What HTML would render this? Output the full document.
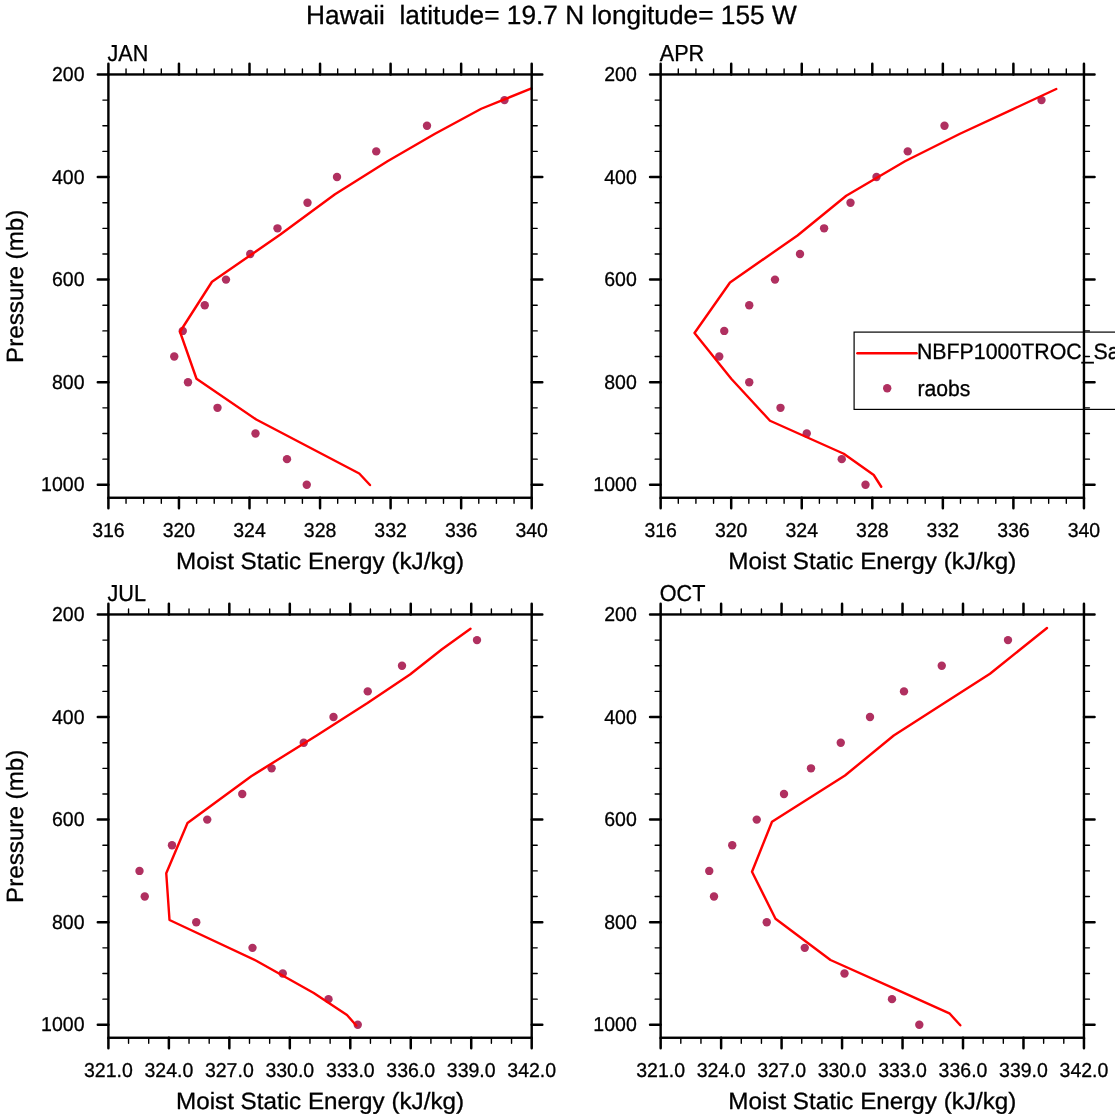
<!DOCTYPE html>
<html lang="en"><head><meta charset="utf-8"><title>Hawaii latitude= 19.7 N longitude= 155 W</title>
<style>html,body{margin:0;padding:0;background:#fff;overflow:hidden}svg{display:block}text{font-family:"Liberation Sans",Arial,Helvetica,sans-serif;fill:#000;text-rendering:geometricPrecision;stroke:#000;stroke-width:0.3px;stroke-linejoin:round}</style>
</head><body>
<svg width="1120" height="1120" viewBox="0 0 1120 1120">
<rect width="1120" height="1120" fill="#fff"/>
<text x="551.4" y="24.2" font-size="26.4" text-anchor="middle" textLength="490.6" lengthAdjust="spacingAndGlyphs" xml:space="preserve" style="white-space:pre">Hawaii  latitude= 19.7 N longitude= 155 W</text>
<g id="JAN">
<g fill="#b03060">
<circle cx="504.5" cy="100.1" r="4.2"/>
<circle cx="427" cy="125.75" r="4.2"/>
<circle cx="376.25" cy="151.39" r="4.2"/>
<circle cx="337" cy="177.04" r="4.2"/>
<circle cx="307.5" cy="202.69" r="4.2"/>
<circle cx="277.5" cy="228.33" r="4.2"/>
<circle cx="250.25" cy="253.98" r="4.2"/>
<circle cx="226" cy="279.62" r="4.2"/>
<circle cx="204.75" cy="305.26" r="4.2"/>
<circle cx="182.75" cy="330.91" r="4.2"/>
<circle cx="174.25" cy="356.56" r="4.2"/>
<circle cx="188" cy="382.2" r="4.2"/>
<circle cx="217.5" cy="407.84" r="4.2"/>
<circle cx="255.5" cy="433.49" r="4.2"/>
<circle cx="287" cy="459.13" r="4.2"/>
<circle cx="306.75" cy="484.78" r="4.2"/>
</g>
<polyline points="531.5,88.4 481.25,108.75 435,133.75 387.5,161.25 335,194.25 280,234.8 212,281.75 180,331.75 196.5,378.75 256.25,419.5 359.25,473.5 370,485" fill="none" stroke="#ff0000" stroke-width="2.4" stroke-linejoin="round" stroke-linecap="round"/>
<path d="M126.04 74.46v-5.5M126.04 497.76v5.5M143.68 74.46v-5.5M143.68 497.76v5.5M161.31 74.46v-5.5M161.31 497.76v5.5M196.59 74.46v-5.5M196.59 497.76v5.5M214.22 74.46v-5.5M214.22 497.76v5.5M231.86 74.46v-5.5M231.86 497.76v5.5M267.14 74.46v-5.5M267.14 497.76v5.5M284.77 74.46v-5.5M284.77 497.76v5.5M302.41 74.46v-5.5M302.41 497.76v5.5M337.69 74.46v-5.5M337.69 497.76v5.5M355.32 74.46v-5.5M355.32 497.76v5.5M372.96 74.46v-5.5M372.96 497.76v5.5M408.24 74.46v-5.5M408.24 497.76v5.5M425.88 74.46v-5.5M425.88 497.76v5.5M443.51 74.46v-5.5M443.51 497.76v5.5M478.79 74.46v-5.5M478.79 497.76v5.5M496.42 74.46v-5.5M496.42 497.76v5.5M514.06 74.46v-5.5M514.06 497.76v5.5M108.4 100.1h-5.5M531.7 100.1h5.5M108.4 125.75h-5.5M531.7 125.75h5.5M108.4 151.39h-5.5M531.7 151.39h5.5M108.4 202.69h-5.5M531.7 202.69h5.5M108.4 228.33h-5.5M531.7 228.33h5.5M108.4 253.98h-5.5M531.7 253.98h5.5M108.4 305.26h-5.5M531.7 305.26h5.5M108.4 330.91h-5.5M531.7 330.91h5.5M108.4 356.56h-5.5M531.7 356.56h5.5M108.4 407.84h-5.5M531.7 407.84h5.5M108.4 433.49h-5.5M531.7 433.49h5.5M108.4 459.13h-5.5M531.7 459.13h5.5" stroke="#000" stroke-width="1.4" stroke-linecap="round" fill="none"/>
<path d="M108.4 74.46v-10.6M108.4 497.76v10.6M178.95 74.46v-10.6M178.95 497.76v10.6M249.5 74.46v-10.6M249.5 497.76v10.6M320.05 74.46v-10.6M320.05 497.76v10.6M390.6 74.46v-10.6M390.6 497.76v10.6M461.15 74.46v-10.6M461.15 497.76v10.6M531.7 74.46v-10.6M531.7 497.76v10.6M108.4 74.46h-10.6M531.7 74.46h10.6M108.4 177.04h-10.6M531.7 177.04h10.6M108.4 279.62h-10.6M531.7 279.62h10.6M108.4 382.2h-10.6M531.7 382.2h10.6M108.4 484.78h-10.6M531.7 484.78h10.6" stroke="#000" stroke-width="2.5" stroke-linecap="round" fill="none"/>
<rect x="108.4" y="74.46" width="423.3" height="423.3" fill="none" stroke="#000" stroke-width="2.4"/>
<text x="107.5" y="61.46" font-size="23.1" textLength="40.8" lengthAdjust="spacingAndGlyphs" stroke-width="0.55">JAN</text>
<text x="108.4" y="536.61" font-size="20.1" text-anchor="middle" textLength="32.5" lengthAdjust="spacingAndGlyphs" stroke-width="0.2">316</text>
<text x="178.95" y="536.61" font-size="20.1" text-anchor="middle" textLength="32.5" lengthAdjust="spacingAndGlyphs" stroke-width="0.2">320</text>
<text x="249.5" y="536.61" font-size="20.1" text-anchor="middle" textLength="32.5" lengthAdjust="spacingAndGlyphs" stroke-width="0.2">324</text>
<text x="320.05" y="536.61" font-size="20.1" text-anchor="middle" textLength="32.5" lengthAdjust="spacingAndGlyphs" stroke-width="0.2">328</text>
<text x="390.6" y="536.61" font-size="20.1" text-anchor="middle" textLength="32.5" lengthAdjust="spacingAndGlyphs" stroke-width="0.2">332</text>
<text x="461.15" y="536.61" font-size="20.1" text-anchor="middle" textLength="32.5" lengthAdjust="spacingAndGlyphs" stroke-width="0.2">336</text>
<text x="531.7" y="536.61" font-size="20.1" text-anchor="middle" textLength="32.5" lengthAdjust="spacingAndGlyphs" stroke-width="0.2">340</text>
<text x="84.5" y="80.96" font-size="20.1" text-anchor="end" textLength="32.5" lengthAdjust="spacingAndGlyphs" stroke-width="0.2">200</text>
<text x="84.5" y="183.54" font-size="20.1" text-anchor="end" textLength="32.5" lengthAdjust="spacingAndGlyphs" stroke-width="0.2">400</text>
<text x="84.5" y="286.12" font-size="20.1" text-anchor="end" textLength="32.5" lengthAdjust="spacingAndGlyphs" stroke-width="0.2">600</text>
<text x="84.5" y="388.7" font-size="20.1" text-anchor="end" textLength="32.5" lengthAdjust="spacingAndGlyphs" stroke-width="0.2">800</text>
<text x="84.5" y="491.28" font-size="20.1" text-anchor="end" textLength="43.4" lengthAdjust="spacingAndGlyphs" stroke-width="0.2">1000</text>
<text x="320.05" y="569.26" font-size="23.5" text-anchor="middle" textLength="288.1" lengthAdjust="spacingAndGlyphs" stroke-width="0.15">Moist Static Energy (kJ/kg)</text>
<text transform="translate(22.7 286.31) rotate(-90)" font-size="23.5" stroke-width="0.35" text-anchor="middle" textLength="153.4" lengthAdjust="spacingAndGlyphs">Pressure (mb)</text>
</g>
<g id="APR">
<g fill="#b03060">
<circle cx="1041.5" cy="100.1" r="4.2"/>
<circle cx="944.5" cy="125.75" r="4.2"/>
<circle cx="907.75" cy="151.39" r="4.2"/>
<circle cx="876.5" cy="177.04" r="4.2"/>
<circle cx="850.5" cy="202.69" r="4.2"/>
<circle cx="824.1" cy="228.33" r="4.2"/>
<circle cx="800" cy="253.98" r="4.2"/>
<circle cx="775" cy="279.62" r="4.2"/>
<circle cx="749.25" cy="305.26" r="4.2"/>
<circle cx="724.25" cy="330.91" r="4.2"/>
<circle cx="719.25" cy="356.56" r="4.2"/>
<circle cx="749.25" cy="382.2" r="4.2"/>
<circle cx="780.5" cy="407.84" r="4.2"/>
<circle cx="806.75" cy="433.49" r="4.2"/>
<circle cx="841.75" cy="459.13" r="4.2"/>
<circle cx="865.5" cy="484.78" r="4.2"/>
</g>
<polyline points="1056.25,89 1012.6,109.3 960,133.75 905,161.25 846.25,195.75 797.5,235.5 730,282.5 694.5,333 731.25,378.75 770,420.75 843.75,453.75 873.75,475 881.25,486.75" fill="none" stroke="#ff0000" stroke-width="2.4" stroke-linejoin="round" stroke-linecap="round"/>
<path d="M678.29 74.46v-5.5M678.29 497.76v5.5M695.92 74.46v-5.5M695.92 497.76v5.5M713.56 74.46v-5.5M713.56 497.76v5.5M748.84 74.46v-5.5M748.84 497.76v5.5M766.47 74.46v-5.5M766.47 497.76v5.5M784.11 74.46v-5.5M784.11 497.76v5.5M819.39 74.46v-5.5M819.39 497.76v5.5M837.02 74.46v-5.5M837.02 497.76v5.5M854.66 74.46v-5.5M854.66 497.76v5.5M889.94 74.46v-5.5M889.94 497.76v5.5M907.57 74.46v-5.5M907.57 497.76v5.5M925.21 74.46v-5.5M925.21 497.76v5.5M960.49 74.46v-5.5M960.49 497.76v5.5M978.12 74.46v-5.5M978.12 497.76v5.5M995.76 74.46v-5.5M995.76 497.76v5.5M1031.04 74.46v-5.5M1031.04 497.76v5.5M1048.67 74.46v-5.5M1048.67 497.76v5.5M1066.31 74.46v-5.5M1066.31 497.76v5.5M660.65 100.1h-5.5M1083.95 100.1h5.5M660.65 125.75h-5.5M1083.95 125.75h5.5M660.65 151.39h-5.5M1083.95 151.39h5.5M660.65 202.69h-5.5M1083.95 202.69h5.5M660.65 228.33h-5.5M1083.95 228.33h5.5M660.65 253.98h-5.5M1083.95 253.98h5.5M660.65 305.26h-5.5M1083.95 305.26h5.5M660.65 330.91h-5.5M1083.95 330.91h5.5M660.65 356.56h-5.5M1083.95 356.56h5.5M660.65 407.84h-5.5M1083.95 407.84h5.5M660.65 433.49h-5.5M1083.95 433.49h5.5M660.65 459.13h-5.5M1083.95 459.13h5.5" stroke="#000" stroke-width="1.4" stroke-linecap="round" fill="none"/>
<path d="M660.65 74.46v-10.6M660.65 497.76v10.6M731.2 74.46v-10.6M731.2 497.76v10.6M801.75 74.46v-10.6M801.75 497.76v10.6M872.3 74.46v-10.6M872.3 497.76v10.6M942.85 74.46v-10.6M942.85 497.76v10.6M1013.4 74.46v-10.6M1013.4 497.76v10.6M1083.95 74.46v-10.6M1083.95 497.76v10.6M660.65 74.46h-10.6M1083.95 74.46h10.6M660.65 177.04h-10.6M1083.95 177.04h10.6M660.65 279.62h-10.6M1083.95 279.62h10.6M660.65 382.2h-10.6M1083.95 382.2h10.6M660.65 484.78h-10.6M1083.95 484.78h10.6" stroke="#000" stroke-width="2.5" stroke-linecap="round" fill="none"/>
<rect x="660.65" y="74.46" width="423.3" height="423.3" fill="none" stroke="#000" stroke-width="2.4"/>
<text x="659.75" y="61.46" font-size="23.1" textLength="44.5" lengthAdjust="spacingAndGlyphs" stroke-width="0.55">APR</text>
<text x="660.65" y="536.61" font-size="20.1" text-anchor="middle" textLength="32.5" lengthAdjust="spacingAndGlyphs" stroke-width="0.2">316</text>
<text x="731.2" y="536.61" font-size="20.1" text-anchor="middle" textLength="32.5" lengthAdjust="spacingAndGlyphs" stroke-width="0.2">320</text>
<text x="801.75" y="536.61" font-size="20.1" text-anchor="middle" textLength="32.5" lengthAdjust="spacingAndGlyphs" stroke-width="0.2">324</text>
<text x="872.3" y="536.61" font-size="20.1" text-anchor="middle" textLength="32.5" lengthAdjust="spacingAndGlyphs" stroke-width="0.2">328</text>
<text x="942.85" y="536.61" font-size="20.1" text-anchor="middle" textLength="32.5" lengthAdjust="spacingAndGlyphs" stroke-width="0.2">332</text>
<text x="1013.4" y="536.61" font-size="20.1" text-anchor="middle" textLength="32.5" lengthAdjust="spacingAndGlyphs" stroke-width="0.2">336</text>
<text x="1083.95" y="536.61" font-size="20.1" text-anchor="middle" textLength="32.5" lengthAdjust="spacingAndGlyphs" stroke-width="0.2">340</text>
<text x="636.75" y="80.96" font-size="20.1" text-anchor="end" textLength="32.5" lengthAdjust="spacingAndGlyphs" stroke-width="0.2">200</text>
<text x="636.75" y="183.54" font-size="20.1" text-anchor="end" textLength="32.5" lengthAdjust="spacingAndGlyphs" stroke-width="0.2">400</text>
<text x="636.75" y="286.12" font-size="20.1" text-anchor="end" textLength="32.5" lengthAdjust="spacingAndGlyphs" stroke-width="0.2">600</text>
<text x="636.75" y="388.7" font-size="20.1" text-anchor="end" textLength="32.5" lengthAdjust="spacingAndGlyphs" stroke-width="0.2">800</text>
<text x="636.75" y="491.28" font-size="20.1" text-anchor="end" textLength="43.4" lengthAdjust="spacingAndGlyphs" stroke-width="0.2">1000</text>
<text x="872.3" y="569.26" font-size="23.5" text-anchor="middle" textLength="288.1" lengthAdjust="spacingAndGlyphs" stroke-width="0.15">Moist Static Energy (kJ/kg)</text>
</g>
<g id="JUL">
<g fill="#b03060">
<circle cx="477" cy="640.11" r="4.2"/>
<circle cx="402" cy="665.75" r="4.2"/>
<circle cx="367.75" cy="691.39" r="4.2"/>
<circle cx="333.5" cy="717.04" r="4.2"/>
<circle cx="303.75" cy="742.69" r="4.2"/>
<circle cx="271.6" cy="768.33" r="4.2"/>
<circle cx="242.25" cy="793.98" r="4.2"/>
<circle cx="207.25" cy="819.62" r="4.2"/>
<circle cx="172" cy="845.27" r="4.2"/>
<circle cx="139.5" cy="870.91" r="4.2"/>
<circle cx="144.75" cy="896.56" r="4.2"/>
<circle cx="196.25" cy="922.2" r="4.2"/>
<circle cx="252.5" cy="947.85" r="4.2"/>
<circle cx="282.75" cy="973.49" r="4.2"/>
<circle cx="328.5" cy="999.13" r="4.2"/>
<circle cx="357.75" cy="1024.78" r="4.2"/>
</g>
<polyline points="470.5,628.75 442,649.25 410,674.5 367.5,703 316.7,735.4 251.25,776.25 187.5,823 166.25,873.25 169.5,920 256.25,960.75 313.75,993 347,1015 356.25,1025.5" fill="none" stroke="#ff0000" stroke-width="2.4" stroke-linejoin="round" stroke-linecap="round"/>
<path d="M128.56 614.46v-5.5M128.56 1037.76v5.5M148.71 614.46v-5.5M148.71 1037.76v5.5M189.03 614.46v-5.5M189.03 1037.76v5.5M209.19 614.46v-5.5M209.19 1037.76v5.5M249.5 614.46v-5.5M249.5 1037.76v5.5M269.66 614.46v-5.5M269.66 1037.76v5.5M309.97 614.46v-5.5M309.97 1037.76v5.5M330.13 614.46v-5.5M330.13 1037.76v5.5M370.44 614.46v-5.5M370.44 1037.76v5.5M390.6 614.46v-5.5M390.6 1037.76v5.5M430.91 614.46v-5.5M430.91 1037.76v5.5M451.07 614.46v-5.5M451.07 1037.76v5.5M491.39 614.46v-5.5M491.39 1037.76v5.5M511.54 614.46v-5.5M511.54 1037.76v5.5M108.4 640.11h-5.5M531.7 640.11h5.5M108.4 665.75h-5.5M531.7 665.75h5.5M108.4 691.39h-5.5M531.7 691.39h5.5M108.4 742.69h-5.5M531.7 742.69h5.5M108.4 768.33h-5.5M531.7 768.33h5.5M108.4 793.98h-5.5M531.7 793.98h5.5M108.4 845.27h-5.5M531.7 845.27h5.5M108.4 870.91h-5.5M531.7 870.91h5.5M108.4 896.56h-5.5M531.7 896.56h5.5M108.4 947.85h-5.5M531.7 947.85h5.5M108.4 973.49h-5.5M531.7 973.49h5.5M108.4 999.13h-5.5M531.7 999.13h5.5" stroke="#000" stroke-width="1.4" stroke-linecap="round" fill="none"/>
<path d="M108.4 614.46v-10.6M108.4 1037.76v10.6M168.87 614.46v-10.6M168.87 1037.76v10.6M229.34 614.46v-10.6M229.34 1037.76v10.6M289.81 614.46v-10.6M289.81 1037.76v10.6M350.29 614.46v-10.6M350.29 1037.76v10.6M410.76 614.46v-10.6M410.76 1037.76v10.6M471.23 614.46v-10.6M471.23 1037.76v10.6M531.7 614.46v-10.6M531.7 1037.76v10.6M108.4 614.46h-10.6M531.7 614.46h10.6M108.4 717.04h-10.6M531.7 717.04h10.6M108.4 819.62h-10.6M531.7 819.62h10.6M108.4 922.2h-10.6M531.7 922.2h10.6M108.4 1024.78h-10.6M531.7 1024.78h10.6" stroke="#000" stroke-width="2.5" stroke-linecap="round" fill="none"/>
<rect x="108.4" y="614.46" width="423.3" height="423.3" fill="none" stroke="#000" stroke-width="2.4"/>
<text x="107.5" y="601.46" font-size="23.1" textLength="38.5" lengthAdjust="spacingAndGlyphs" stroke-width="0.55">JUL</text>
<text x="108.4" y="1076.61" font-size="20.1" text-anchor="middle" textLength="48.8" lengthAdjust="spacingAndGlyphs" stroke-width="0.2">321.0</text>
<text x="168.87" y="1076.61" font-size="20.1" text-anchor="middle" textLength="48.8" lengthAdjust="spacingAndGlyphs" stroke-width="0.2">324.0</text>
<text x="229.34" y="1076.61" font-size="20.1" text-anchor="middle" textLength="48.8" lengthAdjust="spacingAndGlyphs" stroke-width="0.2">327.0</text>
<text x="289.81" y="1076.61" font-size="20.1" text-anchor="middle" textLength="48.8" lengthAdjust="spacingAndGlyphs" stroke-width="0.2">330.0</text>
<text x="350.29" y="1076.61" font-size="20.1" text-anchor="middle" textLength="48.8" lengthAdjust="spacingAndGlyphs" stroke-width="0.2">333.0</text>
<text x="410.76" y="1076.61" font-size="20.1" text-anchor="middle" textLength="48.8" lengthAdjust="spacingAndGlyphs" stroke-width="0.2">336.0</text>
<text x="471.23" y="1076.61" font-size="20.1" text-anchor="middle" textLength="48.8" lengthAdjust="spacingAndGlyphs" stroke-width="0.2">339.0</text>
<text x="531.7" y="1076.61" font-size="20.1" text-anchor="middle" textLength="48.8" lengthAdjust="spacingAndGlyphs" stroke-width="0.2">342.0</text>
<text x="84.5" y="620.96" font-size="20.1" text-anchor="end" textLength="32.5" lengthAdjust="spacingAndGlyphs" stroke-width="0.2">200</text>
<text x="84.5" y="723.54" font-size="20.1" text-anchor="end" textLength="32.5" lengthAdjust="spacingAndGlyphs" stroke-width="0.2">400</text>
<text x="84.5" y="826.12" font-size="20.1" text-anchor="end" textLength="32.5" lengthAdjust="spacingAndGlyphs" stroke-width="0.2">600</text>
<text x="84.5" y="928.7" font-size="20.1" text-anchor="end" textLength="32.5" lengthAdjust="spacingAndGlyphs" stroke-width="0.2">800</text>
<text x="84.5" y="1031.28" font-size="20.1" text-anchor="end" textLength="43.4" lengthAdjust="spacingAndGlyphs" stroke-width="0.2">1000</text>
<text x="320.05" y="1109.26" font-size="23.5" text-anchor="middle" textLength="288.1" lengthAdjust="spacingAndGlyphs" stroke-width="0.15">Moist Static Energy (kJ/kg)</text>
<text transform="translate(22.7 826.31) rotate(-90)" font-size="23.5" stroke-width="0.35" text-anchor="middle" textLength="153.4" lengthAdjust="spacingAndGlyphs">Pressure (mb)</text>
</g>
<g id="OCT">
<g fill="#b03060">
<circle cx="1008" cy="640.11" r="4.2"/>
<circle cx="941.75" cy="665.75" r="4.2"/>
<circle cx="904" cy="691.39" r="4.2"/>
<circle cx="870" cy="717.04" r="4.2"/>
<circle cx="840.75" cy="742.69" r="4.2"/>
<circle cx="811" cy="768.33" r="4.2"/>
<circle cx="784" cy="793.98" r="4.2"/>
<circle cx="756.75" cy="819.62" r="4.2"/>
<circle cx="732.25" cy="845.27" r="4.2"/>
<circle cx="709.25" cy="870.91" r="4.2"/>
<circle cx="714" cy="896.56" r="4.2"/>
<circle cx="766.75" cy="922.2" r="4.2"/>
<circle cx="804.75" cy="947.85" r="4.2"/>
<circle cx="844.5" cy="973.49" r="4.2"/>
<circle cx="892" cy="999.13" r="4.2"/>
<circle cx="919.3" cy="1024.78" r="4.2"/>
</g>
<polyline points="1047,628 1020.5,649.25 990,673.75 945.5,702.3 893.75,735.5 845,775.5 772,821.75 752,871.75 775.5,918.75 830.5,960 901.1,991.6 949.4,1013.3 960.3,1025.3" fill="none" stroke="#ff0000" stroke-width="2.4" stroke-linejoin="round" stroke-linecap="round"/>
<path d="M680.81 614.46v-5.5M680.81 1037.76v5.5M700.96 614.46v-5.5M700.96 1037.76v5.5M741.28 614.46v-5.5M741.28 1037.76v5.5M761.44 614.46v-5.5M761.44 1037.76v5.5M801.75 614.46v-5.5M801.75 1037.76v5.5M821.91 614.46v-5.5M821.91 1037.76v5.5M862.22 614.46v-5.5M862.22 1037.76v5.5M882.38 614.46v-5.5M882.38 1037.76v5.5M922.69 614.46v-5.5M922.69 1037.76v5.5M942.85 614.46v-5.5M942.85 1037.76v5.5M983.16 614.46v-5.5M983.16 1037.76v5.5M1003.32 614.46v-5.5M1003.32 1037.76v5.5M1043.64 614.46v-5.5M1043.64 1037.76v5.5M1063.79 614.46v-5.5M1063.79 1037.76v5.5M660.65 640.11h-5.5M1083.95 640.11h5.5M660.65 665.75h-5.5M1083.95 665.75h5.5M660.65 691.39h-5.5M1083.95 691.39h5.5M660.65 742.69h-5.5M1083.95 742.69h5.5M660.65 768.33h-5.5M1083.95 768.33h5.5M660.65 793.98h-5.5M1083.95 793.98h5.5M660.65 845.27h-5.5M1083.95 845.27h5.5M660.65 870.91h-5.5M1083.95 870.91h5.5M660.65 896.56h-5.5M1083.95 896.56h5.5M660.65 947.85h-5.5M1083.95 947.85h5.5M660.65 973.49h-5.5M1083.95 973.49h5.5M660.65 999.13h-5.5M1083.95 999.13h5.5" stroke="#000" stroke-width="1.4" stroke-linecap="round" fill="none"/>
<path d="M660.65 614.46v-10.6M660.65 1037.76v10.6M721.12 614.46v-10.6M721.12 1037.76v10.6M781.59 614.46v-10.6M781.59 1037.76v10.6M842.06 614.46v-10.6M842.06 1037.76v10.6M902.54 614.46v-10.6M902.54 1037.76v10.6M963.01 614.46v-10.6M963.01 1037.76v10.6M1023.48 614.46v-10.6M1023.48 1037.76v10.6M1083.95 614.46v-10.6M1083.95 1037.76v10.6M660.65 614.46h-10.6M1083.95 614.46h10.6M660.65 717.04h-10.6M1083.95 717.04h10.6M660.65 819.62h-10.6M1083.95 819.62h10.6M660.65 922.2h-10.6M1083.95 922.2h10.6M660.65 1024.78h-10.6M1083.95 1024.78h10.6" stroke="#000" stroke-width="2.5" stroke-linecap="round" fill="none"/>
<rect x="660.65" y="614.46" width="423.3" height="423.3" fill="none" stroke="#000" stroke-width="2.4"/>
<text x="659.75" y="601.46" font-size="23.1" textLength="45.6" lengthAdjust="spacingAndGlyphs" stroke-width="0.55">OCT</text>
<text x="660.65" y="1076.61" font-size="20.1" text-anchor="middle" textLength="48.8" lengthAdjust="spacingAndGlyphs" stroke-width="0.2">321.0</text>
<text x="721.12" y="1076.61" font-size="20.1" text-anchor="middle" textLength="48.8" lengthAdjust="spacingAndGlyphs" stroke-width="0.2">324.0</text>
<text x="781.59" y="1076.61" font-size="20.1" text-anchor="middle" textLength="48.8" lengthAdjust="spacingAndGlyphs" stroke-width="0.2">327.0</text>
<text x="842.06" y="1076.61" font-size="20.1" text-anchor="middle" textLength="48.8" lengthAdjust="spacingAndGlyphs" stroke-width="0.2">330.0</text>
<text x="902.54" y="1076.61" font-size="20.1" text-anchor="middle" textLength="48.8" lengthAdjust="spacingAndGlyphs" stroke-width="0.2">333.0</text>
<text x="963.01" y="1076.61" font-size="20.1" text-anchor="middle" textLength="48.8" lengthAdjust="spacingAndGlyphs" stroke-width="0.2">336.0</text>
<text x="1023.48" y="1076.61" font-size="20.1" text-anchor="middle" textLength="48.8" lengthAdjust="spacingAndGlyphs" stroke-width="0.2">339.0</text>
<text x="1083.95" y="1076.61" font-size="20.1" text-anchor="middle" textLength="48.8" lengthAdjust="spacingAndGlyphs" stroke-width="0.2">342.0</text>
<text x="636.75" y="620.96" font-size="20.1" text-anchor="end" textLength="32.5" lengthAdjust="spacingAndGlyphs" stroke-width="0.2">200</text>
<text x="636.75" y="723.54" font-size="20.1" text-anchor="end" textLength="32.5" lengthAdjust="spacingAndGlyphs" stroke-width="0.2">400</text>
<text x="636.75" y="826.12" font-size="20.1" text-anchor="end" textLength="32.5" lengthAdjust="spacingAndGlyphs" stroke-width="0.2">600</text>
<text x="636.75" y="928.7" font-size="20.1" text-anchor="end" textLength="32.5" lengthAdjust="spacingAndGlyphs" stroke-width="0.2">800</text>
<text x="636.75" y="1031.28" font-size="20.1" text-anchor="end" textLength="43.4" lengthAdjust="spacingAndGlyphs" stroke-width="0.2">1000</text>
<text x="872.3" y="1109.26" font-size="23.5" text-anchor="middle" textLength="288.1" lengthAdjust="spacingAndGlyphs" stroke-width="0.15">Moist Static Energy (kJ/kg)</text>
</g>
<g id="legend">
<rect x="854.1" y="332.1" width="300" height="77.3" fill="none" stroke="#000" stroke-width="1.2"/>
<path d="M857.4 353.3H916.6" stroke="#ff0000" stroke-width="2.4" stroke-linecap="round" fill="none"/>
<circle cx="887.2" cy="388.3" r="4.2" fill="#b03060"/>
<text x="916.9" y="359.4" font-size="22.3" textLength="202.8" lengthAdjust="spacingAndGlyphs">NBFP1000TROC_Sa</text>
<text x="917.4" y="395.6" font-size="22.3" textLength="53.0" lengthAdjust="spacingAndGlyphs">raobs</text>
</g>
<rect x="1115" y="0" width="5" height="1120" fill="#fff"/>
</svg>
</body></html>
